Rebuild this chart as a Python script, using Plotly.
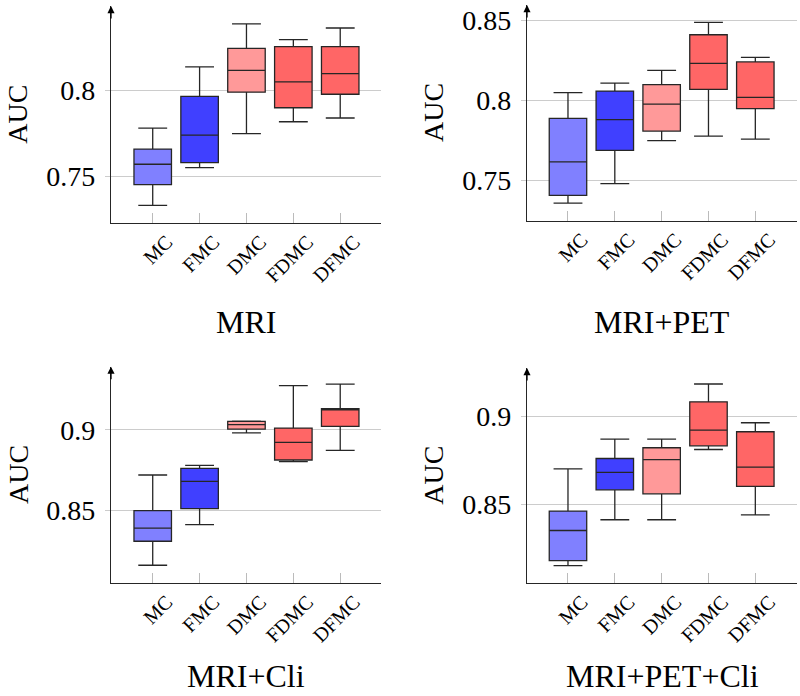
import plotly.graph_objects as go

categories = ["MC", "FMC", "DMC", "FDMC", "DFMC"]
panel_titles = ["MRI", "MRI+PET", "MRI+Cli", "MRI+PET+Cli"]

# per panel: lower whisker, q1, median, q3, upper whisker for each category
mri_low = [0.7328, 0.7549, 0.7748, 0.7818, 0.7840]
mri_q1 = [0.7449, 0.7578, 0.7991, 0.7900, 0.7979]
mri_med = [0.7569, 0.7739, 0.8119, 0.8051, 0.8100]
mri_q3 = [0.7658, 0.7967, 0.8248, 0.8258, 0.8258]
mri_high = [0.7780, 0.8139, 0.8391, 0.8299, 0.8367]

pet_low = [0.7358, 0.7479, 0.7748, 0.7777, 0.7758]
pet_q1 = [0.7406, 0.7687, 0.7808, 0.8069, 0.7948]
pet_med = [0.7616, 0.7879, 0.7977, 0.8231, 0.8019]
pet_q3 = [0.7888, 0.8058, 0.8098, 0.8410, 0.8240]
pet_high = [0.8048, 0.8108, 0.8188, 0.8488, 0.8269]

cli_low = [0.8159, 0.8411, 0.8981, 0.8802, 0.8872]
cli_q1 = [0.8308, 0.8510, 0.9004, 0.8812, 0.9021]
cli_med = [0.8389, 0.8680, 0.9031, 0.8922, 0.9126]
cli_q3 = [0.8498, 0.8760, 0.9052, 0.9010, 0.9130]
cli_high = [0.8719, 0.8779, 0.9053, 0.9273, 0.9283]

all_low = [0.8150, 0.8411, 0.8411, 0.8810, 0.8439]
all_q1 = [0.8179, 0.8581, 0.8558, 0.8831, 0.8601]
all_med = [0.8350, 0.8680, 0.8752, 0.8920, 0.8710]
all_q3 = [0.8460, 0.8759, 0.8820, 0.9081, 0.8911]
all_high = [0.8700, 0.8869, 0.8869, 0.9182, 0.8962]

y_tickvals = [[0.75, 0.8], [0.75, 0.8, 0.85], [0.85, 0.9], [0.85, 0.9]]
y_ticktext = [["0.75", "0.8"], ["0.75", "0.8", "0.85"], ["0.85", "0.9"], ["0.85", "0.9"]]
y_ranges = [[0.7223, 0.8496], [0.7246, 0.8596], [0.8047, 0.9391], [0.8050, 0.9273]]

fills = ["#8080ff", "#4040ff", "#ff9999", "#ff6666", "#ff6666"]

panels = [
    (mri_low, mri_q1, mri_med, mri_q3, mri_high),
    (pet_low, pet_q1, pet_med, pet_q3, pet_high),
    (cli_low, cli_q1, cli_med, cli_q3, cli_high),
    (all_low, all_q1, all_med, all_q3, all_high),
]

W, H = 800, 696
# pixel boxes: (left, right, top, bottom)
px = [(111, 381, 6, 223.3), (527, 797, 5, 221), (111, 381, 366.7, 583.3), (527, 797, 368, 583.3)]
x_ranges = [[-0.89, 4.87], [-0.875, 4.89], [-0.89, 4.87], [-0.875, 4.89]]

FONT = "Liberation Serif, Times New Roman, Times, serif"
fig = go.Figure()
line_col = "#262626"

for p, (lo, q1, med, q3, hi) in enumerate(panels):
    xa = "x" if p == 0 else f"x{p+1}"
    ya = "y" if p == 0 else f"y{p+1}"
    for i in range(len(categories)):
        fig.add_trace(go.Box(
            x=[i], lowerfence=[lo[i]], q1=[q1[i]], median=[med[i]], q3=[q3[i]],
            upperfence=[hi[i]], xaxis=xa, yaxis=ya,
            fillcolor=fills[i], line=dict(color=line_col, width=1.3),
            width=0.8, whiskerwidth=0.77, boxpoints=False, showlegend=False,
            hoverinfo="skip",
        ))
    l, r, t, b = px[p]
    xk = "xaxis" if p == 0 else f"xaxis{p+1}"
    yk = "yaxis" if p == 0 else f"yaxis{p+1}"
    fig.layout[xk] = dict(
        domain=[l / W, r / W], anchor=ya, range=x_ranges[p], automargin=False,
        tickmode="array", tickvals=list(range(5)), ticktext=categories,
        tickangle=-45, ticks="inside", ticklen=10, tickcolor="#bbbbbb", tickwidth=1,
        ticklabelshift=14, ticklabelstandoff=-2,
        showline=True, linecolor=line_col, linewidth=1.3, showgrid=False, zeroline=False,
        tickfont=dict(family=FONT, size=20, color="black"),
    )
    fig.layout[yk] = dict(
        domain=[1 - b / H, 1 - t / H], anchor=xa, range=y_ranges[p], automargin=False,
        tickmode="array", tickvals=y_tickvals[p], ticktext=y_ticktext[p],
        ticks="outside", ticklen=5, tickcolor="#cccccc", tickwidth=1.3,
        ticklabelstandoff=4,
        showline=True, linecolor=line_col, linewidth=1.3,
        showgrid=True, gridcolor="#cccccc", gridwidth=1.3, zeroline=False,
        tickfont=dict(family=FONT, size=28, color="black"),
    )
    # arrow at top of y axis
    fig.add_annotation(x=0, y=1, xref=f"{xa} domain", yref=f"{ya} domain",
                       showarrow=True, ax=0, ay=14, arrowhead=2, arrowsize=1.1,
                       arrowwidth=1.3, arrowcolor="black", text="", standoff=0)
    # y title
    fig.add_annotation(x=(l - 93) / W, y=1 - ((t + b) / 2) / H, xref="paper", yref="paper",
                       xanchor="center", yanchor="middle",
                       text="AUC", textangle=-90, showarrow=False,
                       font=dict(family=FONT, size=28, color="black"))
    # panel title
    if p < 2:
        fig.add_annotation(x=((l + r) / 2) / W, y=1 - 322 / H, xref="paper", yref="paper",
                           xanchor="center", yanchor="middle",
                           text=panel_titles[p], showarrow=False,
                           font=dict(family=FONT, size=32, color="black"))
    else:
        fig.add_annotation(x=((l + r) / 2) / W, y=0, xref="paper", yref="paper",
                           xanchor="center", yanchor="bottom",
                           text=panel_titles[p], showarrow=False,
                           font=dict(family=FONT, size=32, color="black"))

fig.update_layout(width=W, height=H, margin=dict(l=0, r=0, t=0, b=0),
                  plot_bgcolor="white", paper_bgcolor="white", boxmode="overlay")
fig.write_html("out.html", config={"displayModeBar": False},
               post_script="document.body.style.margin='0px';")
